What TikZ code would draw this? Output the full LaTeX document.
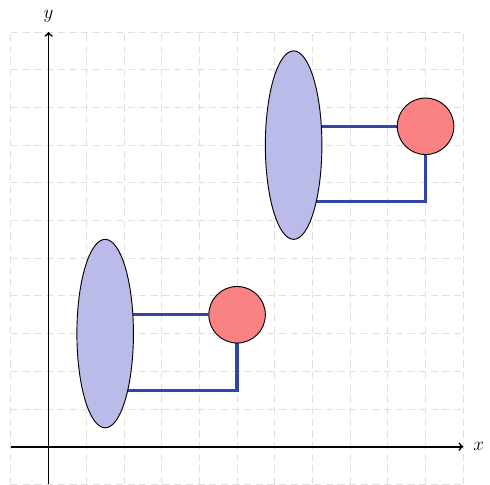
\documentclass[tikz,border=0pt]{standalone}
\usepackage{tikz}
\usetikzlibrary{calc, positioning, shapes.geometric, arrows, backgrounds}

\definecolor{linkblue}{RGB}{50,70,168}
\definecolor{blobfill}{RGB}{187,187,234}
\definecolor{ballfill}{RGB}{250,130,130}

\tikzset{
    blob/.style={ellipse,draw=black,line width=0.7pt,fill=blobfill,minimum width=1.5cm,minimum height=5cm,inner sep=0pt},
    ball/.style={circle,draw=black,line width=0.7pt,fill=ballfill,minimum size=1.5cm,inner sep=0pt},
    link/.style={linkblue,line width=2.4pt},
    gridline/.style={black!12,line width=0.7pt,dash pattern=on 5.5pt off 3.3pt},
    axis/.style={black,line width=1.3pt,-to},
    axislabel/.style={font=\Large,inner sep=7pt}
}

\begin{document}
\begin{tikzpicture}
    \useasboundingbox (-1.29,-1.01) rectangle (11.71,11.85);

    \node[blob] (lowblob) at (1.5,3) {}; %lower pair
    \node[ball] (lowball) at (5,3.5) {};
    \node[blob] (upblob) at (6.5,8) {}; %upper pair
    \node[ball] (upball) at (10,8.5) {};

    \begin{pgfonlayer}{background}
    \draw[gridline] (-1,-1) grid (11,11);
    \draw[link] (lowblob |- lowball) -- (lowball);
    \draw[link] ([yshift=-1.5cm]lowblob.center) -| (lowball);
    \draw[link] (upblob |- upball) -- (upball);
    \draw[link] ([yshift=-1.5cm]upblob.center) -| (upball);
    \end{pgfonlayer}

    \draw[axis] (-1,0) -- (11,0) node[axislabel,right] {$x$};
    \draw[axis] (0,-1) -- (0,11) node[axislabel,above] {$y$};
\end{tikzpicture}
\end{document}
